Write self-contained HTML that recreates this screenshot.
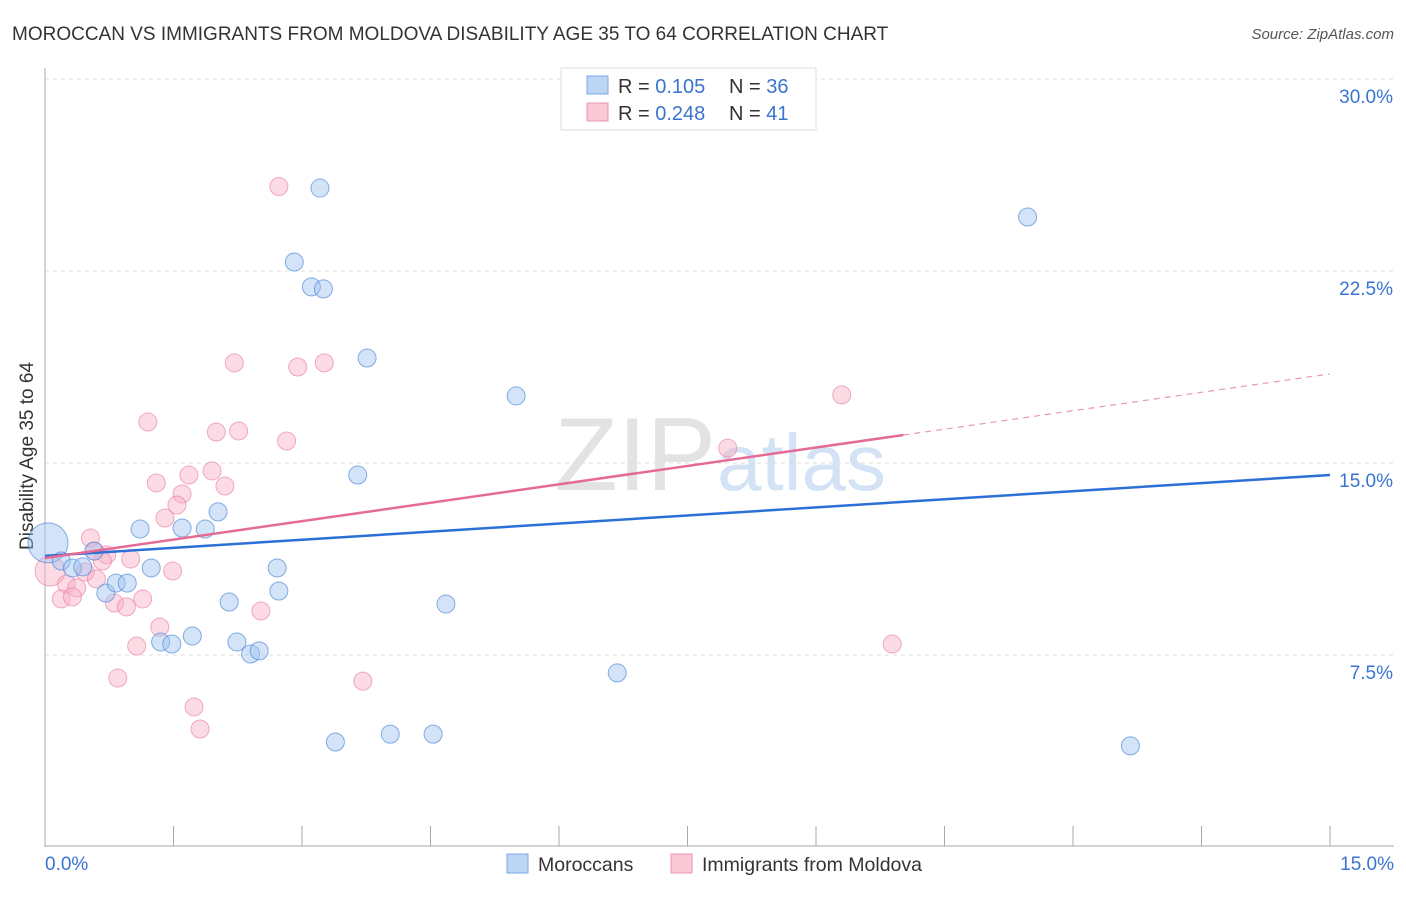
<!DOCTYPE html>
<html><head><meta charset="utf-8"><style>
body{margin:0;background:#fff;font-family:"Liberation Sans",sans-serif}
svg text{font-family:"Liberation Sans",sans-serif}
</style></head><body>
<svg id="c" width="1406" height="892">
<text x="12" y="40" font-size="19" fill="#333">MOROCCAN VS IMMIGRANTS FROM MOLDOVA DISABILITY AGE 35 TO 64 CORRELATION CHART</text>
<text x="1394" y="39" font-size="15" fill="#555" font-style="italic" text-anchor="end">Source: ZipAtlas.com</text>
<text x="716" y="490" font-size="104" fill="#e3e3e3" text-anchor="end" font-family="Liberation Serif">ZIP</text>
<text x="717" y="490" font-size="80" fill="#d3e2f4">atlas</text>
<text transform="translate(33,456) rotate(-90)" font-size="19" fill="#333" text-anchor="middle">Disability Age 35 to 64</text>
<g id="grid"></g><g id="marks"></g>
<g>
<rect x="561" y="68" width="255" height="62" fill="#fff" stroke="#ddd"/>
<rect x="587" y="76" width="21" height="18" fill="#bcd5f5" stroke="#7aa7e3"/>
<rect x="587" y="103" width="21" height="18" fill="#fbc8d8" stroke="#ee95b0"/>
<text x="618" y="93" font-size="20" fill="#333">R = <tspan fill="#3a74d0">0.105</tspan><tspan x="729">N = </tspan><tspan fill="#3a74d0">36</tspan></text>
<text x="618" y="120" font-size="20" fill="#333">R = <tspan fill="#3a74d0">0.248</tspan><tspan x="729">N = </tspan><tspan fill="#3a74d0"> 41</tspan></text>
</g>
<g>
<rect x="507" y="854" width="21" height="19" fill="#bcd5f5" stroke="#7aa7e3"/>
<text x="538" y="871" font-size="19.5" fill="#333">Moroccans</text>
<rect x="671" y="854" width="21" height="19" fill="#fbc8d8" stroke="#ee95b0"/>
<text x="702" y="871" font-size="19.5" fill="#333">Immigrants from Moldova</text>
</g>
</svg>
<script>
const blueX=[0.035,0.19,0.32,0.44,0.57,0.71,0.83,0.96,1.11,1.24,1.35,1.48,1.6,1.72,1.87,2.02,2.15,2.24,2.4,2.5,2.71,2.73,3.39,3.65,2.91,3.11,3.25,3.21,3.76,5.5,4.68,4.03,4.53,6.68,11.47,12.67];
const blueY=[11.88,11.17,10.9,10.94,11.56,9.92,10.31,10.31,12.42,10.9,8.01,7.93,12.46,8.24,12.42,13.09,9.57,8.01,7.54,7.66,10.9,10.0,4.1,14.53,22.85,21.88,21.8,25.74,19.1,17.62,9.49,4.41,4.41,6.8,24.61,3.95];
const pinkX=[0.06,1.2,2.0,2.26,2.82,1.3,1.68,1.95,2.1,1.6,1.54,1.4,0.53,0.58,0.72,0.67,1.0,1.49,0.47,0.6,0.25,0.37,0.19,0.32,1.14,0.81,0.95,2.52,1.34,1.07,0.85,1.74,1.81,3.71,2.73,2.21,2.95,3.26,9.3,7.97,9.89];
const pinkY=[10.78,16.6,16.21,16.25,15.86,14.22,14.53,14.69,14.1,13.79,13.36,12.85,12.07,11.56,11.41,11.17,11.25,10.78,10.74,10.47,10.27,10.12,9.69,9.77,9.69,9.53,9.38,9.22,8.59,7.85,6.6,5.47,4.61,6.48,25.8,18.91,18.75,18.91,17.66,15.58,7.93];
const xT=["0.0%","15.0%"], yTv=[7.5,15,22.5,30], yTl=["7.5%","15.0%","22.5%","30.0%"];
const blueLine=[11.37,14.53], pinkLine=[11.29,18.48], pinkSolidEnd=10.02;
const X=v=>45+v/15*1285, Y=v=>847-v/7.5*192;
const NS="http://www.w3.org/2000/svg";
function mk(p,t,a){const e=document.createElementNS(NS,t);for(const k in a)e.setAttribute(k,a[k]);p.appendChild(e);return e;}
const g=document.getElementById('grid'),m=document.getElementById('marks');
yTv.forEach((v,i)=>{
 const l=mk(g,'line',{x1:45,x2:1394,y1:Y(v),y2:Y(v),stroke:'#ddd','stroke-dasharray':'4,4'});
 
 
 const t=mk(g,'text',{x:1393,y:Y(v)+24,'font-size':19,fill:'#3a74d0','text-anchor':'end'});t.textContent=yTl[i];
 
 
});
const ax=mk(g,'line',{x1:45,x2:45,y1:68,y2:847,stroke:'#aaa'});


const bx=mk(g,'line',{x1:45,x2:1394,y1:846,y2:846,stroke:'#aaa'});


for(let i=0;i<=10;i++){const t=mk(g,'line',{x1:X(i*1.5),x2:X(i*1.5),y1:826,y2:846,stroke:'#aaa'});
 
 }
[[0,45,'start'],[1,1394,'end']].forEach(([i,x,a])=>{const t=mk(g,'text',{x:x,y:870,'font-size':19,fill:'#3a74d0','text-anchor':a});t.textContent=xT[i];
 
 });
pinkX.forEach((v,i)=>{const c=mk(m,'circle',{cx:X(v),cy:Y(pinkY[i]),r:i==0?15:9,fill:'rgba(248,175,198,0.45)',stroke:'rgba(232,120,155,0.6)'});
 
 });
blueX.forEach((v,i)=>{const c=mk(m,'circle',{cx:X(v),cy:Y(blueY[i]),r:i==0?20:9,fill:'rgba(160,196,240,0.45)',stroke:'rgba(70,130,215,0.65)'});
 
 });
const bl=mk(m,'line',{x1:X(0),y1:Y(blueLine[0]),x2:X(15),y2:Y(blueLine[1]),stroke:'#2c6fd6','stroke-width':2.5});


const py=v=>pinkLine[0]+(pinkLine[1]-pinkLine[0])*v/15;
const pl=mk(m,'line',{x1:X(0),y1:Y(pinkLine[0]),x2:X(pinkSolidEnd),y2:Y(py(pinkSolidEnd)),stroke:'#e56b95','stroke-width':2.5});


const pd=mk(m,'line',{x1:X(pinkSolidEnd),y1:Y(py(pinkSolidEnd)),x2:X(15),y2:Y(pinkLine[1]),stroke:'#e899b3','stroke-width':1.2,'stroke-dasharray':'6,5'});


</script>
</body></html>
